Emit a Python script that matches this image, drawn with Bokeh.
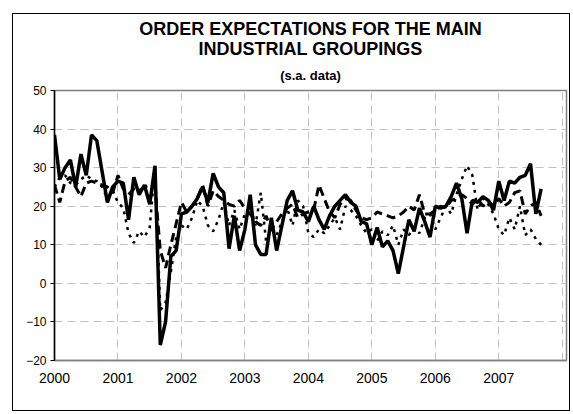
from bokeh.plotting import figure
from bokeh.models import FixedTicker, Title, Range1d
from bokeh.embed import file_html
from bokeh.resources import INLINE

# Monthly data, Jan 2000 .. Sep 2007
year_labels = ["2000", "2001", "2002", "2003", "2004", "2005", "2006", "2007"]

solid = [38.5, 27, 30, 32, 25, 33.5, 28, 38.5, 37, 29, 21, 25,
         26.5, 26, 16.5, 27.5, 23, 25.5, 20.5, 30.5, -16, -10, 7, 8.5,
         18, 18.5, 20, 22, 25, 21, 28.5, 25, 23.5, 9, 17.5, 8.5,
         14, 23, 10, 7.5, 7.5, 17, 8.5, 15, 21.5, 24, 19, 18.5,
         16, 20, 16.5, 14, 17.5, 20, 21.5, 23, 21, 20, 16, 15.5,
         10, 14.5, 9.5, 11, 8.5, 2.5, 9.5, 16.5, 13.5, 19.5, 16, 12,
         20, 19.5, 20, 22.5, 26, 22, 13, 21.5, 21, 22.5, 21.5, 19,
         26.5, 21.5, 26.5, 26, 27.5, 28, 31, 18, 24.5]

dashed = [25.5, 21, 26.5, 27.5, 25, 22.5, 26, 26.5, 26, 25.5, 25, 23.5,
          28, 24.5, 23, 24.5, 24, 25, 25.5, 25, 8.5, 4, 10, 15.5,
          21, 18.5, 20, 22, 25.5, 20, 24, 22.5, 21.5, 20.5, 20, 21.5,
          19.5, 18, 16, 15, 17.5, 14, 16, 18, 19.5, 20.5, 17, 18,
          18.5, 19, 25.5, 22, 18.5, 17, 20.5, 22, 21.5, 19, 17, 16.5,
          17, 18.5, 18, 17.5, 17, 17.5, 18.5, 20, 19, 23, 18, 18,
          19, 20, 19.5, 21.5, 22, 23, 22, 20.5, 22, 20, 21.5, 20,
          22, 20, 21, 23.5, 24, 18, 20, 21, 17.5]

dotted = [25, 27.5, 28, 26, 25.5, 27, 28, 27, 26.5, 25, 22, 24,
          21, 19.5, 13, 10.5, 13.5, 12, 14.5, 30.5, -7, -5, 3, 12,
          15, 14, 17, 21.5, 20, 15, 13.5, 16.5, 21, 15, 19, 14,
          18, 20, 15, 23.5, 11, 14, 12.5, 16, 19.5, 15, 21.5, 20,
          13, 12, 14, 13, 15, 17, 14, 20, 19, 17.5, 15, 13,
          14, 11, 13.5, 12.5, 15, 10, 14, 12.5, 14.5, 13, 17, 18,
          14, 17, 20, 18, 23, 27, 30.5, 28, 19, 22, 20.5, 18,
          14, 12.5, 17, 14, 20, 12.5, 14, 11.5, 10]

months = list(range(len(solid)))
year_ticks = [12 * i for i in range(len(year_labels))]

FONT = "Liberation Sans"

p = figure(width=573, height=414, output_backend="svg", toolbar_location=None,
           x_range=Range1d(0, 96.8), y_range=Range1d(-20, 50),
           min_border_left=54, min_border_right=7, min_border_top=90,
           min_border_bottom=54)

p.title.text = "ORDER EXPECTATIONS FOR THE MAIN"
p.title.align = "center"
p.title.text_font = FONT
p.title.text_font_size = "18px"
p.title.text_font_style = "bold"
p.title.text_color = "black"
p.title.standoff = -4
p.add_layout(Title(text="(s.a. data)", align="center", text_font=FONT,
                   text_font_size="13px", text_font_style="bold",
                   text_color="black", standoff=15), "above")
p.add_layout(Title(text="INDUSTRIAL GROUPINGS", align="center", text_font=FONT,
                   text_font_size="18px", text_font_style="bold",
                   text_color="black", standoff=0), "above")

p.line(months, dotted, line_width=2.5, color="black", line_dash="3 5")
p.line(months, dashed, line_width=3, color="black", line_dash="9 5")
p.line(months, solid, line_width=3.5, color="black")

# axes
p.xaxis.ticker = FixedTicker(ticks=year_ticks)
p.xaxis.major_label_overrides = {t: l for t, l in zip(year_ticks, year_labels)}
p.xaxis.major_tick_out = 0
p.xaxis.major_tick_in = 0
p.xaxis.minor_tick_line_color = None
p.xaxis.axis_line_color = "#808080"
p.xaxis.axis_line_width = 1.5
p.xaxis.major_label_text_font = FONT
p.xaxis.major_label_text_font_size = "14px"
p.xaxis.major_label_text_color = "black"
p.xaxis.major_label_standoff = 12

p.yaxis.ticker = FixedTicker(ticks=list(range(-20, 51, 10)))
p.yaxis.major_tick_out = 4
p.yaxis.major_tick_in = 0
p.yaxis.minor_tick_line_color = None
p.yaxis.axis_line_color = "black"
p.yaxis.axis_line_width = 1.5
p.yaxis.major_label_text_font = FONT
p.yaxis.major_label_text_font_size = "12px"
p.yaxis.major_label_text_color = "black"
p.yaxis.major_label_standoff = 4

# grids
p.xgrid.ticker = FixedTicker(ticks=[12 * i for i in range(1, 9)])
p.ygrid.ticker = FixedTicker(ticks=list(range(-10, 50, 10)))
for g in (p.xgrid, p.ygrid):
    g.grid_line_color = "#c0c0c0"
    g.grid_line_dash = "8 5"
    g.grid_line_width = 1

p.outline_line_color = "#808080"
p.outline_line_width = 1.5
p.background_fill_color = "white"
p.border_fill_alpha = 0

# outer chart border drawn as page background behind the transparent border area
edge = "linear-gradient(#000,#000)"
p.styles = {
    "background": (
        f"{edge} 12px 13px / 558px 1px no-repeat, "
        f"{edge} 12px 410px / 558px 1px no-repeat, "
        f"{edge} 12px 13px / 1px 398px no-repeat, "
        f"{edge} 569px 13px / 1px 398px no-repeat, white"
    )
}

open("out.html", "w").write(file_html(p, INLINE))
